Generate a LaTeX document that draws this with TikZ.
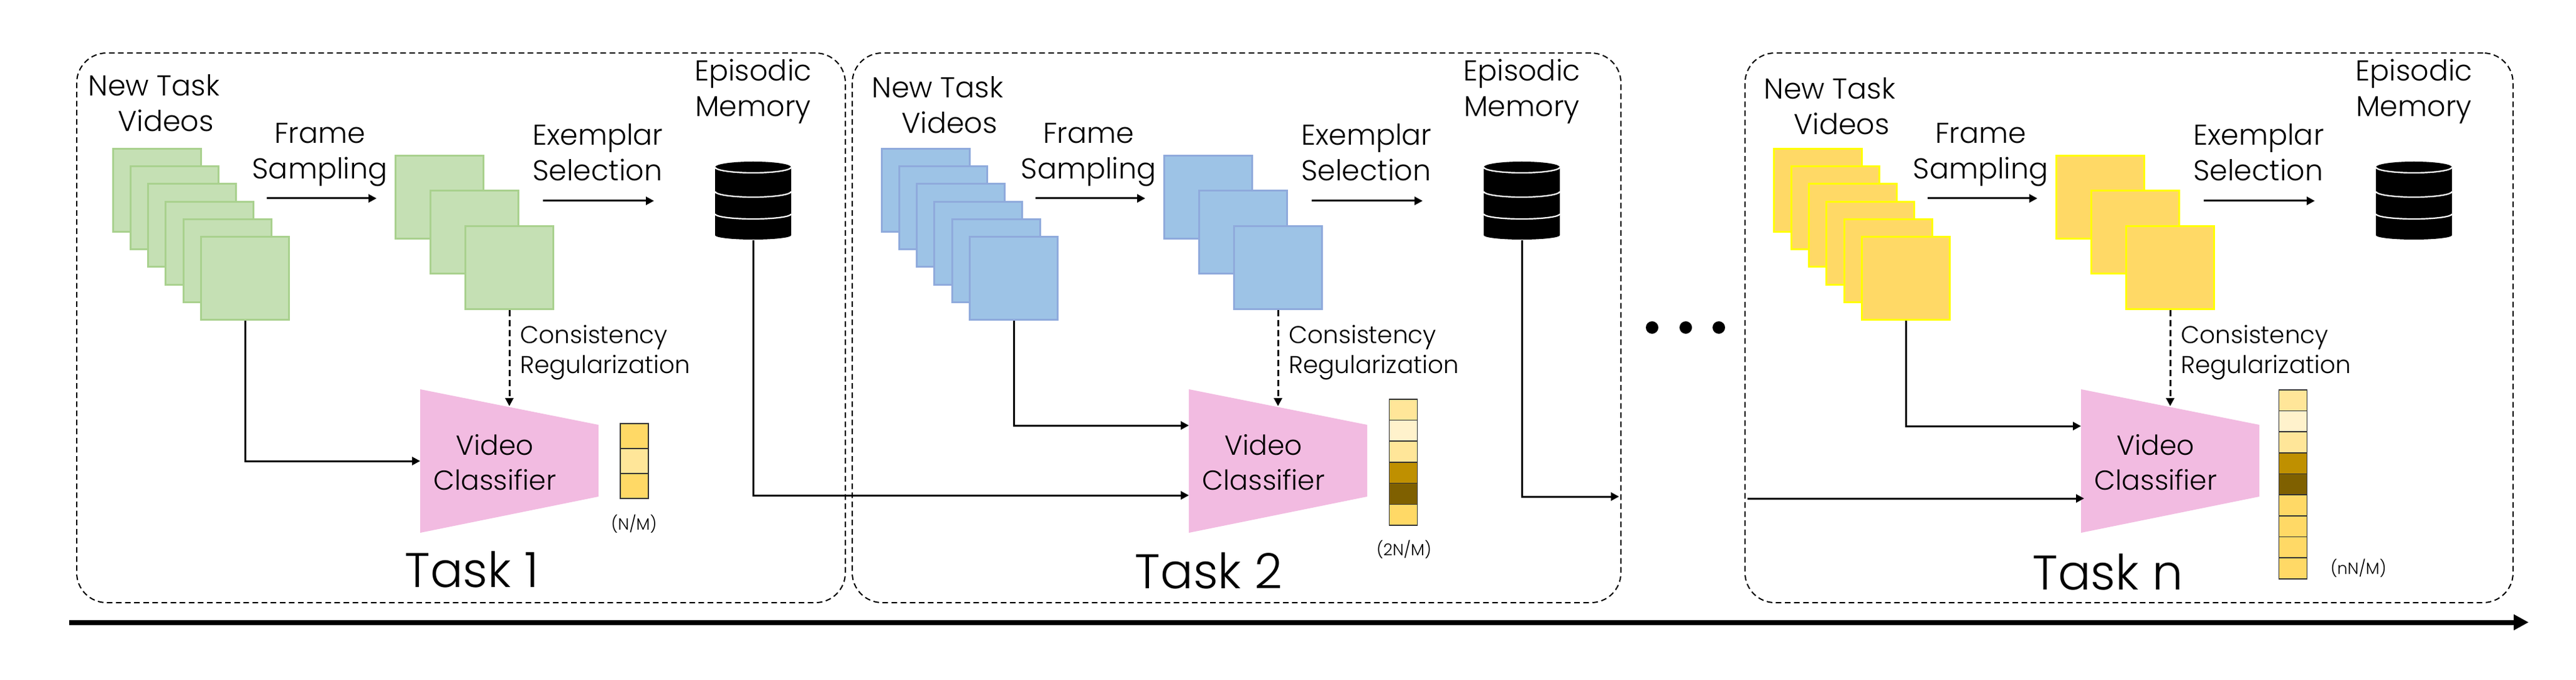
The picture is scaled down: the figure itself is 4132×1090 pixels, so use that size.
\documentclass[tikz,border=0pt]{standalone}
\usepackage{fontspec}
\setmainfont{Poppins Light}
\usetikzlibrary{arrows.meta,calc}
\definecolor{gF}{HTML}{C5E0B4}\definecolor{gD}{HTML}{A9D18E}
\definecolor{bF}{HTML}{9DC3E6}\definecolor{bD}{HTML}{8FAADC}
\definecolor{yF}{HTML}{FFD966}\definecolor{yD}{HTML}{FFFF00}
\definecolor{pk}{HTML}{F2BBE1}
\definecolor{cA}{HTML}{FFD966}\definecolor{cB}{HTML}{FFE699}\definecolor{cC}{HTML}{FFF2CC}
\definecolor{cD}{HTML}{BF9000}\definecolor{cE}{HTML}{7F6000}
\newcommand{\fsN}{\fontsize{23}{28.5}\selectfont}
\newcommand{\fsV}{\fontsize{22}{28}\selectfont}
\newcommand{\fsC}{\fontsize{19.5}{24}\selectfont}
\newcommand{\fsT}{\fontsize{39}{40}\selectfont}
\newcommand{\fsS}{\fontsize{13}{15}\selectfont}
\tikzset{
 x=0.5pt,y=-0.5pt,
 taskbox/.style={draw=black,line width=1pt,dash pattern=on 4.5pt off 2.8pt,rounded corners=24pt,inner sep=0,minimum height=440.5pt},
 frame/.style={rectangle,inner sep=0,minimum width=70.5pt,minimum height=66.5pt,line width=1.8pt},
 conn/.style={draw=black,line width=1.5pt,-{Triangle[length=6.5pt,width=6.5pt]}},
 dconn/.style={conn,dash pattern=on 5pt off 3pt},
 lbl/.style={inner sep=0,align=center,text=black},
 cell/.style={rectangle,draw=black!80,line width=0.8pt,inner sep=0,minimum width=22.5pt},
 memnode/.style={rectangle,inner sep=0,minimum width=61pt,minimum height=63pt},
}
\newcommand{\taskcore}[3]{%
 \foreach \i/\fx/\fy in {1/252/305,2/280/333,3/308/361,4/336/390,5/365/418,6/393/446}{
  \node[frame,fill=#2,draw=#3] (#1f\i) at (\fx,\fy) {};
 }
 \node[frame,fill=#2,draw=#3] (#1sa) at (705,316) {};
 \node[frame,fill=#2,draw=#3] (#1sb) at (761,372) {};
 \node[frame,fill=#2,draw=#3] (#1sc) at (817,429) {};
 \node[lbl,font=\fsN] (#1frame) at (513,248) {Frame\\Sampling};
 \node[lbl,font=\fsN,align=left,anchor=west] (#1exem) at (854,244) {Exemplar\\Selection};
 \node[lbl,font=\fsN] (#1epis) at (1208,147) {Episodic\\Memory};
 \coordinate (#1a1) at (428,318); \coordinate (#1a2) at (604,318);
 \coordinate (#1b1) at (871,322); \coordinate (#1b2) at (1049,322);
 \draw[conn] (#1a1) -- (#1a2);
 \draw[conn] (#1b1) -- (#1b2);
 \node[memnode] (#1mem) at (1208,322) {};
 \fill[black] (1147,268) arc[x radius=61,y radius=9,start angle=180,end angle=360]
   -- (1269,377) arc[x radius=61,y radius=7,start angle=0,end angle=180] -- cycle;
 \draw[white,line width=1.1pt] (1147,268) arc[x radius=61,y radius=9,start angle=180,end angle=0];
 \draw[white,line width=1.1pt] (1147,307) arc[x radius=61,y radius=9,start angle=180,end angle=0];
 \draw[white,line width=1.1pt] (1147,343) arc[x radius=61,y radius=8,start angle=180,end angle=0];
 \fill[pk] (674,624) -- (960,681) -- (960,796) -- (674,854) -- cycle;
 \coordinate (#1ctop) at (817,651);
 \draw[dconn] (#1sc.south) -- (#1ctop);
 \node[lbl,font=\fsC,align=left,anchor=west] (#1cons) at (834,565) {Consistency\\Regularization};
 \node[lbl,font=\fsV] (#1clf) at (794,741) {Video\\Classifier};
}
\newcommand{\barcells}[5]{%
 \foreach \c [count=\k from 0] in {#5}{
  \node[cell,fill=\c,minimum height=#4*0.5pt,anchor=north] (#1c\k) at (#2,#3+\k*#4) {};
 }
}
\begin{document}
\begin{tikzpicture}
\useasboundingbox[fill=white] (0,0) rectangle (4132,1090);
\node[taskbox,minimum width=616.5pt] (box1) at (739.5,525.5) {};
\node[taskbox,minimum width=616.5pt] (box2) at (1983.5,525.5) {};
\node[taskbox,minimum width=616pt] (boxn) at (3415,525.5) {};
\begin{scope}
 \taskcore{p}{gF}{gD}
 \node[lbl,font=\fsN] (pnew) at (247,165) {New Task\\\hspace*{19pt}Videos};
 \coordinate (pin) at (674,739);
 \draw[conn] (pf6.south) |- (pin);
 \barcells{p}{1017.5}{678}{40}{cA,cB,cA}
 \node[lbl,font=\fsS] (pout) at (1017,840) {(N/M)};
 \node[lbl,font=\fsT] (ptask) at (757,913) {Task 1};
\end{scope}
\begin{scope}[xshift=616.5pt]
 \taskcore{q}{bF}{bD}
 \node[lbl,font=\fsN] (qnew) at (271,168) {New Task\\\hspace*{19pt}Videos};
 \coordinate (qin) at (674,682);
 \coordinate (qmin) at (674,794);
 \draw[conn] (qf6.south) |- (qin);
 \barcells{q}{1018}{639}{33.7}{cB,cC,cB,cD,cE,cA}
 \node[lbl,font=\fsS] (qout) at (1019,881) {(2N/M)};
 \node[lbl,font=\fsT] (qtask) at (706,915) {Task 2};
 \coordinate (qout2) at (1364,796);
\end{scope}
\draw[conn] (pmem.south) |- (qmin);
\draw[conn] (qmem.south) |- (qout2);
\node[circle,fill=black,minimum size=10pt,inner sep=0] (d1) at (2650,525) {};
\node[circle,fill=black,minimum size=10pt,inner sep=0] (d2) at (2704,525) {};
\node[circle,fill=black,minimum size=10pt,inner sep=0] (d3) at (2757,525) {};
\begin{scope}[xshift=1332pt]
 \taskcore{r}{yF}{yD}
 \node[lbl,font=\fsN] (rnew) at (271,170) {New Task\\\hspace*{19pt}Videos};
 \coordinate (rin) at (674,683);
 \coordinate (rleft) at (139,799);
 \coordinate (rmin) at (679,799);
 \draw[conn] (rf6.south) |- (rin);
 \draw[conn] (rleft) -- (rmin);
 \barcells{r}{1014}{624}{33.67}{cB,cC,cB,cD,cE,cA,cA,cA,cA}
 \node[lbl,font=\fsS] (rout) at (1119,911) {(nN/M)};
 \node[lbl,font=\fsT] (rtask) at (717,917) {Task n};
\end{scope}
\coordinate (t0) at (111,997.5); \coordinate (t1) at (4056,997.5);
\draw[line width=4pt,-{Triangle[length=12pt,width=12pt]}] (t0) -- (t1);
\end{tikzpicture}
\end{document}
